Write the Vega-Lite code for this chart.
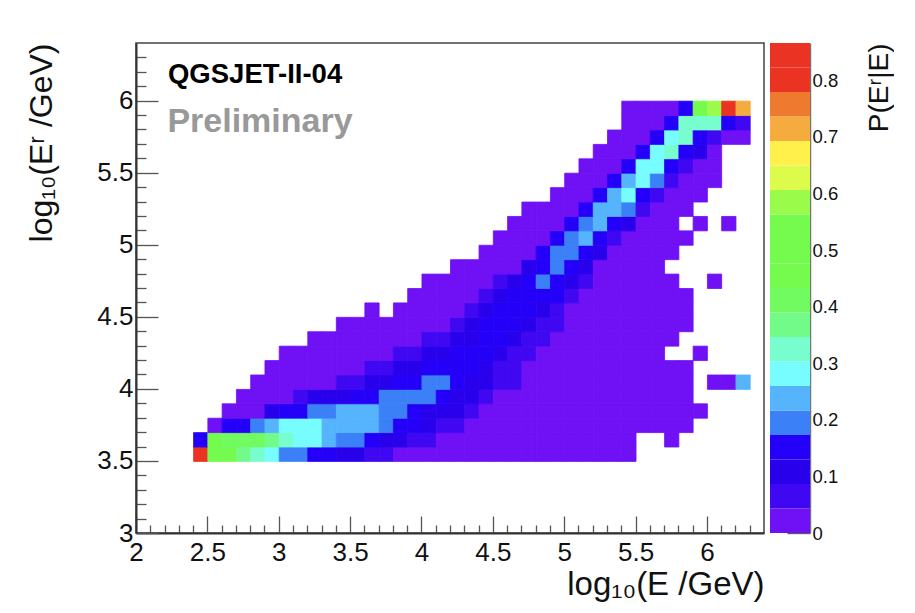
{"$schema":"https://vega.github.io/schema/vega-lite/v6.json","padding":{"left":25,"top":42,"right":0,"bottom":0},"background":"white","spacing":5,"config":{"font":"Liberation Sans","axis":{"grid":false,"labelFont":"Liberation Sans","titleFont":"Liberation Sans","titleFontWeight":"normal"}},"hconcat":[{"width":628,"height":490,"view":{"stroke":"#444","strokeWidth":1.5},"layer":[{"data":{"values":[
{"x":2.4,"y":3.5,"z":0.84},{"x":2.5,"y":3.5,"z":0.5},{"x":2.6,"y":3.5,"z":0.5},{"x":2.7,"y":3.5,"z":0.365},{"x":2.8,"y":3.5,"z":0.32},{"x":2.9,"y":3.5,"z":0.28},{"x":3.0,"y":3.5,"z":0.19},{"x":3.1,"y":3.5,"z":0.19},{"x":3.2,"y":3.5,"z":0.14},{"x":3.3,"y":3.5,"z":0.14},{"x":3.4,"y":3.5,"z":0.11},{"x":3.5,"y":3.5,"z":0.11},{"x":3.6,"y":3.5,"z":0.065},{"x":3.7,"y":3.5,"z":0.065},{"x":3.8,"y":3.5,"z":0.02},{"x":3.9,"y":3.5,"z":0.02},{"x":4.0,"y":3.5,"z":0.02},{"x":4.1,"y":3.5,"z":0.02},{"x":4.2,"y":3.5,"z":0.02},{"x":4.3,"y":3.5,"z":0.02},{"x":4.4,"y":3.5,"z":0.02},{"x":4.5,"y":3.5,"z":0.02},{"x":4.6,"y":3.5,"z":0.02},{"x":4.7,"y":3.5,"z":0.02},{"x":4.8,"y":3.5,"z":0.02},{"x":4.9,"y":3.5,"z":0.02},{"x":5.0,"y":3.5,"z":0.02},{"x":5.1,"y":3.5,"z":0.02},{"x":5.2,"y":3.5,"z":0.02},{"x":5.3,"y":3.5,"z":0.02},{"x":5.4,"y":3.5,"z":0.02},
{"x":2.4,"y":3.6,"z":0.15},{"x":2.5,"y":3.6,"z":0.47},{"x":2.6,"y":3.6,"z":0.41},{"x":2.7,"y":3.6,"z":0.41},{"x":2.8,"y":3.6,"z":0.41},{"x":2.9,"y":3.6,"z":0.365},{"x":3.0,"y":3.6,"z":0.32},{"x":3.1,"y":3.6,"z":0.28},{"x":3.2,"y":3.6,"z":0.28},{"x":3.3,"y":3.6,"z":0.235},{"x":3.4,"y":3.6,"z":0.19},{"x":3.5,"y":3.6,"z":0.19},{"x":3.6,"y":3.6,"z":0.14},{"x":3.7,"y":3.6,"z":0.11},{"x":3.8,"y":3.6,"z":0.11},{"x":3.9,"y":3.6,"z":0.065},{"x":4.0,"y":3.6,"z":0.065},{"x":4.1,"y":3.6,"z":0.02},{"x":4.2,"y":3.6,"z":0.02},{"x":4.3,"y":3.6,"z":0.02},{"x":4.4,"y":3.6,"z":0.02},{"x":4.5,"y":3.6,"z":0.02},{"x":4.6,"y":3.6,"z":0.02},{"x":4.7,"y":3.6,"z":0.02},{"x":4.8,"y":3.6,"z":0.02},{"x":4.9,"y":3.6,"z":0.02},{"x":5.0,"y":3.6,"z":0.02},{"x":5.1,"y":3.6,"z":0.02},{"x":5.2,"y":3.6,"z":0.02},{"x":5.3,"y":3.6,"z":0.02},{"x":5.4,"y":3.6,"z":0.02},{"x":5.7,"y":3.6,"z":0.02},
{"x":2.5,"y":3.7,"z":0.02},{"x":2.6,"y":3.7,"z":0.14},{"x":2.7,"y":3.7,"z":0.14},{"x":2.8,"y":3.7,"z":0.19},{"x":2.9,"y":3.7,"z":0.235},{"x":3.0,"y":3.7,"z":0.28},{"x":3.1,"y":3.7,"z":0.28},{"x":3.2,"y":3.7,"z":0.28},{"x":3.3,"y":3.7,"z":0.235},{"x":3.4,"y":3.7,"z":0.235},{"x":3.5,"y":3.7,"z":0.235},{"x":3.6,"y":3.7,"z":0.235},{"x":3.7,"y":3.7,"z":0.19},{"x":3.8,"y":3.7,"z":0.14},{"x":3.9,"y":3.7,"z":0.14},{"x":4.0,"y":3.7,"z":0.11},{"x":4.1,"y":3.7,"z":0.07},{"x":4.2,"y":3.7,"z":0.07},{"x":4.3,"y":3.7,"z":0.02},{"x":4.4,"y":3.7,"z":0.02},{"x":4.5,"y":3.7,"z":0.02},{"x":4.6,"y":3.7,"z":0.02},{"x":4.7,"y":3.7,"z":0.02},{"x":4.8,"y":3.7,"z":0.02},{"x":4.9,"y":3.7,"z":0.02},{"x":5.0,"y":3.7,"z":0.02},{"x":5.1,"y":3.7,"z":0.02},{"x":5.2,"y":3.7,"z":0.02},{"x":5.3,"y":3.7,"z":0.02},{"x":5.4,"y":3.7,"z":0.02},{"x":5.5,"y":3.7,"z":0.02},{"x":5.6,"y":3.7,"z":0.02},{"x":5.7,"y":3.7,"z":0.02},{"x":5.8,"y":3.7,"z":0.02},
{"x":2.6,"y":3.8,"z":0.02},{"x":2.7,"y":3.8,"z":0.02},{"x":2.8,"y":3.8,"z":0.02},{"x":2.9,"y":3.8,"z":0.11},{"x":3.0,"y":3.8,"z":0.14},{"x":3.1,"y":3.8,"z":0.14},{"x":3.2,"y":3.8,"z":0.19},{"x":3.3,"y":3.8,"z":0.19},{"x":3.4,"y":3.8,"z":0.235},{"x":3.5,"y":3.8,"z":0.235},{"x":3.6,"y":3.8,"z":0.235},{"x":3.7,"y":3.8,"z":0.19},{"x":3.8,"y":3.8,"z":0.19},{"x":3.9,"y":3.8,"z":0.14},{"x":4.0,"y":3.8,"z":0.11},{"x":4.1,"y":3.8,"z":0.11},{"x":4.2,"y":3.8,"z":0.11},{"x":4.3,"y":3.8,"z":0.07},{"x":4.4,"y":3.8,"z":0.02},{"x":4.5,"y":3.8,"z":0.02},{"x":4.6,"y":3.8,"z":0.02},{"x":4.7,"y":3.8,"z":0.02},{"x":4.8,"y":3.8,"z":0.02},{"x":4.9,"y":3.8,"z":0.02},{"x":5.0,"y":3.8,"z":0.02},{"x":5.1,"y":3.8,"z":0.02},{"x":5.2,"y":3.8,"z":0.02},{"x":5.3,"y":3.8,"z":0.02},{"x":5.4,"y":3.8,"z":0.02},{"x":5.5,"y":3.8,"z":0.02},{"x":5.6,"y":3.8,"z":0.02},{"x":5.7,"y":3.8,"z":0.02},{"x":5.8,"y":3.8,"z":0.02},{"x":5.9,"y":3.8,"z":0.02},
{"x":2.7,"y":3.9,"z":0.02},{"x":2.8,"y":3.9,"z":0.02},{"x":2.9,"y":3.9,"z":0.02},{"x":3.0,"y":3.9,"z":0.02},{"x":3.1,"y":3.9,"z":0.07},{"x":3.2,"y":3.9,"z":0.11},{"x":3.3,"y":3.9,"z":0.11},{"x":3.4,"y":3.9,"z":0.11},{"x":3.5,"y":3.9,"z":0.14},{"x":3.6,"y":3.9,"z":0.14},{"x":3.7,"y":3.9,"z":0.19},{"x":3.8,"y":3.9,"z":0.19},{"x":3.9,"y":3.9,"z":0.19},{"x":4.0,"y":3.9,"z":0.19},{"x":4.1,"y":3.9,"z":0.14},{"x":4.2,"y":3.9,"z":0.11},{"x":4.3,"y":3.9,"z":0.11},{"x":4.4,"y":3.9,"z":0.07},{"x":4.5,"y":3.9,"z":0.02},{"x":4.6,"y":3.9,"z":0.02},{"x":4.7,"y":3.9,"z":0.02},{"x":4.8,"y":3.9,"z":0.02},{"x":4.9,"y":3.9,"z":0.02},{"x":5.0,"y":3.9,"z":0.02},{"x":5.1,"y":3.9,"z":0.02},{"x":5.2,"y":3.9,"z":0.02},{"x":5.3,"y":3.9,"z":0.02},{"x":5.4,"y":3.9,"z":0.02},{"x":5.5,"y":3.9,"z":0.02},{"x":5.6,"y":3.9,"z":0.02},{"x":5.7,"y":3.9,"z":0.02},{"x":5.8,"y":3.9,"z":0.02},
{"x":2.8,"y":4.0,"z":0.02},{"x":2.9,"y":4.0,"z":0.02},{"x":3.0,"y":4.0,"z":0.02},{"x":3.1,"y":4.0,"z":0.02},{"x":3.2,"y":4.0,"z":0.02},{"x":3.3,"y":4.0,"z":0.02},{"x":3.4,"y":4.0,"z":0.07},{"x":3.5,"y":4.0,"z":0.07},{"x":3.6,"y":4.0,"z":0.11},{"x":3.7,"y":4.0,"z":0.11},{"x":3.8,"y":4.0,"z":0.14},{"x":3.9,"y":4.0,"z":0.14},{"x":4.0,"y":4.0,"z":0.19},{"x":4.1,"y":4.0,"z":0.19},{"x":4.2,"y":4.0,"z":0.14},{"x":4.3,"y":4.0,"z":0.11},{"x":4.4,"y":4.0,"z":0.11},{"x":4.5,"y":4.0,"z":0.07},{"x":4.6,"y":4.0,"z":0.07},{"x":4.7,"y":4.0,"z":0.02},{"x":4.8,"y":4.0,"z":0.02},{"x":4.9,"y":4.0,"z":0.02},{"x":5.0,"y":4.0,"z":0.02},{"x":5.1,"y":4.0,"z":0.02},{"x":5.2,"y":4.0,"z":0.02},{"x":5.3,"y":4.0,"z":0.02},{"x":5.4,"y":4.0,"z":0.02},{"x":5.5,"y":4.0,"z":0.02},{"x":5.6,"y":4.0,"z":0.02},{"x":5.7,"y":4.0,"z":0.02},{"x":5.8,"y":4.0,"z":0.02},{"x":6.0,"y":4.0,"z":0.02},{"x":6.1,"y":4.0,"z":0.02},{"x":6.2,"y":4.0,"z":0.235},
{"x":2.9,"y":4.1,"z":0.02},{"x":3.0,"y":4.1,"z":0.02},{"x":3.1,"y":4.1,"z":0.02},{"x":3.2,"y":4.1,"z":0.02},{"x":3.3,"y":4.1,"z":0.02},{"x":3.4,"y":4.1,"z":0.02},{"x":3.5,"y":4.1,"z":0.02},{"x":3.6,"y":4.1,"z":0.07},{"x":3.7,"y":4.1,"z":0.07},{"x":3.8,"y":4.1,"z":0.11},{"x":3.9,"y":4.1,"z":0.11},{"x":4.0,"y":4.1,"z":0.15},{"x":4.1,"y":4.1,"z":0.15},{"x":4.2,"y":4.1,"z":0.15},{"x":4.3,"y":4.1,"z":0.15},{"x":4.4,"y":4.1,"z":0.11},{"x":4.5,"y":4.1,"z":0.07},{"x":4.6,"y":4.1,"z":0.07},{"x":4.7,"y":4.1,"z":0.02},{"x":4.8,"y":4.1,"z":0.02},{"x":4.9,"y":4.1,"z":0.02},{"x":5.0,"y":4.1,"z":0.02},{"x":5.1,"y":4.1,"z":0.02},{"x":5.2,"y":4.1,"z":0.02},{"x":5.3,"y":4.1,"z":0.02},{"x":5.4,"y":4.1,"z":0.02},{"x":5.5,"y":4.1,"z":0.02},{"x":5.6,"y":4.1,"z":0.02},{"x":5.7,"y":4.1,"z":0.02},{"x":5.8,"y":4.1,"z":0.02},
{"x":3.0,"y":4.2,"z":0.02},{"x":3.1,"y":4.2,"z":0.02},{"x":3.2,"y":4.2,"z":0.02},{"x":3.3,"y":4.2,"z":0.02},{"x":3.4,"y":4.2,"z":0.02},{"x":3.5,"y":4.2,"z":0.02},{"x":3.6,"y":4.2,"z":0.02},{"x":3.7,"y":4.2,"z":0.02},{"x":3.8,"y":4.2,"z":0.07},{"x":3.9,"y":4.2,"z":0.07},{"x":4.0,"y":4.2,"z":0.11},{"x":4.1,"y":4.2,"z":0.11},{"x":4.2,"y":4.2,"z":0.15},{"x":4.3,"y":4.2,"z":0.15},{"x":4.4,"y":4.2,"z":0.15},{"x":4.5,"y":4.2,"z":0.11},{"x":4.6,"y":4.2,"z":0.07},{"x":4.7,"y":4.2,"z":0.07},{"x":4.8,"y":4.2,"z":0.02},{"x":4.9,"y":4.2,"z":0.02},{"x":5.0,"y":4.2,"z":0.02},{"x":5.1,"y":4.2,"z":0.02},{"x":5.2,"y":4.2,"z":0.02},{"x":5.3,"y":4.2,"z":0.02},{"x":5.4,"y":4.2,"z":0.02},{"x":5.5,"y":4.2,"z":0.02},{"x":5.6,"y":4.2,"z":0.02},{"x":5.9,"y":4.2,"z":0.02},
{"x":3.2,"y":4.3,"z":0.02},{"x":3.3,"y":4.3,"z":0.02},{"x":3.4,"y":4.3,"z":0.02},{"x":3.5,"y":4.3,"z":0.02},{"x":3.6,"y":4.3,"z":0.02},{"x":3.7,"y":4.3,"z":0.02},{"x":3.8,"y":4.3,"z":0.02},{"x":3.9,"y":4.3,"z":0.02},{"x":4.0,"y":4.3,"z":0.07},{"x":4.1,"y":4.3,"z":0.07},{"x":4.2,"y":4.3,"z":0.11},{"x":4.3,"y":4.3,"z":0.11},{"x":4.4,"y":4.3,"z":0.14},{"x":4.5,"y":4.3,"z":0.14},{"x":4.6,"y":4.3,"z":0.11},{"x":4.7,"y":4.3,"z":0.07},{"x":4.8,"y":4.3,"z":0.07},{"x":4.9,"y":4.3,"z":0.02},{"x":5.0,"y":4.3,"z":0.02},{"x":5.1,"y":4.3,"z":0.02},{"x":5.2,"y":4.3,"z":0.02},{"x":5.3,"y":4.3,"z":0.02},{"x":5.4,"y":4.3,"z":0.02},{"x":5.5,"y":4.3,"z":0.02},{"x":5.6,"y":4.3,"z":0.02},{"x":5.7,"y":4.3,"z":0.02},
{"x":3.4,"y":4.4,"z":0.02},{"x":3.5,"y":4.4,"z":0.02},{"x":3.6,"y":4.4,"z":0.02},{"x":3.7,"y":4.4,"z":0.02},{"x":3.8,"y":4.4,"z":0.02},{"x":3.9,"y":4.4,"z":0.02},{"x":4.0,"y":4.4,"z":0.02},{"x":4.1,"y":4.4,"z":0.02},{"x":4.2,"y":4.4,"z":0.07},{"x":4.3,"y":4.4,"z":0.11},{"x":4.4,"y":4.4,"z":0.15},{"x":4.5,"y":4.4,"z":0.15},{"x":4.6,"y":4.4,"z":0.15},{"x":4.7,"y":4.4,"z":0.12},{"x":4.8,"y":4.4,"z":0.07},{"x":4.9,"y":4.4,"z":0.07},{"x":5.0,"y":4.4,"z":0.02},{"x":5.1,"y":4.4,"z":0.02},{"x":5.2,"y":4.4,"z":0.02},{"x":5.3,"y":4.4,"z":0.02},{"x":5.4,"y":4.4,"z":0.02},{"x":5.5,"y":4.4,"z":0.02},{"x":5.6,"y":4.4,"z":0.02},{"x":5.7,"y":4.4,"z":0.02},{"x":5.8,"y":4.4,"z":0.02},
{"x":3.6,"y":4.5,"z":0.02},{"x":3.8,"y":4.5,"z":0.02},{"x":3.9,"y":4.5,"z":0.02},{"x":4.0,"y":4.5,"z":0.02},{"x":4.1,"y":4.5,"z":0.02},{"x":4.2,"y":4.5,"z":0.02},{"x":4.3,"y":4.5,"z":0.07},{"x":4.4,"y":4.5,"z":0.11},{"x":4.5,"y":4.5,"z":0.15},{"x":4.6,"y":4.5,"z":0.15},{"x":4.7,"y":4.5,"z":0.15},{"x":4.8,"y":4.5,"z":0.12},{"x":4.9,"y":4.5,"z":0.07},{"x":5.0,"y":4.5,"z":0.02},{"x":5.1,"y":4.5,"z":0.02},{"x":5.2,"y":4.5,"z":0.02},{"x":5.3,"y":4.5,"z":0.02},{"x":5.4,"y":4.5,"z":0.02},{"x":5.5,"y":4.5,"z":0.02},{"x":5.6,"y":4.5,"z":0.02},{"x":5.7,"y":4.5,"z":0.02},{"x":5.8,"y":4.5,"z":0.02},
{"x":3.9,"y":4.6,"z":0.02},{"x":4.0,"y":4.6,"z":0.02},{"x":4.1,"y":4.6,"z":0.02},{"x":4.2,"y":4.6,"z":0.02},{"x":4.3,"y":4.6,"z":0.02},{"x":4.4,"y":4.6,"z":0.07},{"x":4.5,"y":4.6,"z":0.11},{"x":4.6,"y":4.6,"z":0.15},{"x":4.7,"y":4.6,"z":0.15},{"x":4.8,"y":4.6,"z":0.15},{"x":4.9,"y":4.6,"z":0.14},{"x":5.0,"y":4.6,"z":0.07},{"x":5.1,"y":4.6,"z":0.02},{"x":5.2,"y":4.6,"z":0.02},{"x":5.3,"y":4.6,"z":0.02},{"x":5.4,"y":4.6,"z":0.02},{"x":5.5,"y":4.6,"z":0.02},{"x":5.6,"y":4.6,"z":0.02},{"x":5.7,"y":4.6,"z":0.02},{"x":5.8,"y":4.6,"z":0.02},
{"x":4.0,"y":4.7,"z":0.02},{"x":4.1,"y":4.7,"z":0.02},{"x":4.2,"y":4.7,"z":0.02},{"x":4.3,"y":4.7,"z":0.02},{"x":4.4,"y":4.7,"z":0.02},{"x":4.5,"y":4.7,"z":0.07},{"x":4.6,"y":4.7,"z":0.11},{"x":4.7,"y":4.7,"z":0.15},{"x":4.8,"y":4.7,"z":0.19},{"x":4.9,"y":4.7,"z":0.15},{"x":5.0,"y":4.7,"z":0.11},{"x":5.1,"y":4.7,"z":0.07},{"x":5.2,"y":4.7,"z":0.02},{"x":5.3,"y":4.7,"z":0.02},{"x":5.4,"y":4.7,"z":0.02},{"x":5.5,"y":4.7,"z":0.02},{"x":5.6,"y":4.7,"z":0.02},{"x":5.7,"y":4.7,"z":0.02},{"x":6.0,"y":4.7,"z":0.02},
{"x":4.2,"y":4.8,"z":0.02},{"x":4.3,"y":4.8,"z":0.02},{"x":4.4,"y":4.8,"z":0.02},{"x":4.5,"y":4.8,"z":0.02},{"x":4.6,"y":4.8,"z":0.02},{"x":4.7,"y":4.8,"z":0.12},{"x":4.8,"y":4.8,"z":0.15},{"x":4.9,"y":4.8,"z":0.19},{"x":5.0,"y":4.8,"z":0.15},{"x":5.1,"y":4.8,"z":0.12},{"x":5.2,"y":4.8,"z":0.02},{"x":5.3,"y":4.8,"z":0.02},{"x":5.4,"y":4.8,"z":0.02},{"x":5.5,"y":4.8,"z":0.02},{"x":5.6,"y":4.8,"z":0.02},
{"x":4.4,"y":4.9,"z":0.02},{"x":4.5,"y":4.9,"z":0.02},{"x":4.6,"y":4.9,"z":0.02},{"x":4.7,"y":4.9,"z":0.02},{"x":4.8,"y":4.9,"z":0.15},{"x":4.9,"y":4.9,"z":0.19},{"x":5.0,"y":4.9,"z":0.19},{"x":5.1,"y":4.9,"z":0.15},{"x":5.2,"y":4.9,"z":0.12},{"x":5.3,"y":4.9,"z":0.02},{"x":5.4,"y":4.9,"z":0.02},{"x":5.5,"y":4.9,"z":0.02},{"x":5.6,"y":4.9,"z":0.02},{"x":5.7,"y":4.9,"z":0.02},
{"x":4.5,"y":5.0,"z":0.02},{"x":4.6,"y":5.0,"z":0.02},{"x":4.7,"y":5.0,"z":0.02},{"x":4.8,"y":5.0,"z":0.02},{"x":4.9,"y":5.0,"z":0.15},{"x":5.0,"y":5.0,"z":0.19},{"x":5.1,"y":5.0,"z":0.235},{"x":5.2,"y":5.0,"z":0.15},{"x":5.3,"y":5.0,"z":0.07},{"x":5.4,"y":5.0,"z":0.02},{"x":5.5,"y":5.0,"z":0.02},{"x":5.6,"y":5.0,"z":0.02},{"x":5.7,"y":5.0,"z":0.02},{"x":5.8,"y":5.0,"z":0.02},
{"x":4.6,"y":5.1,"z":0.02},{"x":4.7,"y":5.1,"z":0.02},{"x":4.8,"y":5.1,"z":0.02},{"x":4.9,"y":5.1,"z":0.02},{"x":5.0,"y":5.1,"z":0.15},{"x":5.1,"y":5.1,"z":0.19},{"x":5.2,"y":5.1,"z":0.235},{"x":5.3,"y":5.1,"z":0.15},{"x":5.4,"y":5.1,"z":0.1},{"x":5.5,"y":5.1,"z":0.02},{"x":5.6,"y":5.1,"z":0.02},{"x":5.7,"y":5.1,"z":0.02},{"x":5.9,"y":5.1,"z":0.02},{"x":6.1,"y":5.1,"z":0.02},
{"x":4.7,"y":5.2,"z":0.02},{"x":4.8,"y":5.2,"z":0.02},{"x":4.9,"y":5.2,"z":0.02},{"x":5.0,"y":5.2,"z":0.02},{"x":5.1,"y":5.2,"z":0.15},{"x":5.2,"y":5.2,"z":0.235},{"x":5.3,"y":5.2,"z":0.235},{"x":5.4,"y":5.2,"z":0.19},{"x":5.5,"y":5.2,"z":0.07},{"x":5.6,"y":5.2,"z":0.02},{"x":5.7,"y":5.2,"z":0.02},{"x":5.8,"y":5.2,"z":0.02},
{"x":4.9,"y":5.3,"z":0.02},{"x":5.0,"y":5.3,"z":0.02},{"x":5.1,"y":5.3,"z":0.02},{"x":5.2,"y":5.3,"z":0.15},{"x":5.3,"y":5.3,"z":0.235},{"x":5.4,"y":5.3,"z":0.28},{"x":5.5,"y":5.3,"z":0.15},{"x":5.6,"y":5.3,"z":0.07},{"x":5.7,"y":5.3,"z":0.02},{"x":5.8,"y":5.3,"z":0.02},{"x":5.9,"y":5.3,"z":0.02},
{"x":5.0,"y":5.4,"z":0.02},{"x":5.1,"y":5.4,"z":0.02},{"x":5.2,"y":5.4,"z":0.02},{"x":5.3,"y":5.4,"z":0.15},{"x":5.4,"y":5.4,"z":0.235},{"x":5.5,"y":5.4,"z":0.28},{"x":5.6,"y":5.4,"z":0.19},{"x":5.7,"y":5.4,"z":0.07},{"x":5.8,"y":5.4,"z":0.02},{"x":5.9,"y":5.4,"z":0.02},{"x":6.0,"y":5.4,"z":0.02},
{"x":5.1,"y":5.5,"z":0.02},{"x":5.2,"y":5.5,"z":0.02},{"x":5.3,"y":5.5,"z":0.02},{"x":5.4,"y":5.5,"z":0.15},{"x":5.5,"y":5.5,"z":0.28},{"x":5.6,"y":5.5,"z":0.28},{"x":5.7,"y":5.5,"z":0.15},{"x":5.8,"y":5.5,"z":0.08},{"x":5.9,"y":5.5,"z":0.02},{"x":6.0,"y":5.5,"z":0.02},
{"x":5.2,"y":5.6,"z":0.02},{"x":5.3,"y":5.6,"z":0.02},{"x":5.4,"y":5.6,"z":0.02},{"x":5.5,"y":5.6,"z":0.15},{"x":5.6,"y":5.6,"z":0.28},{"x":5.7,"y":5.6,"z":0.32},{"x":5.8,"y":5.6,"z":0.15},{"x":5.9,"y":5.6,"z":0.1},{"x":6.0,"y":5.6,"z":0.03},
{"x":5.3,"y":5.7,"z":0.02},{"x":5.4,"y":5.7,"z":0.02},{"x":5.5,"y":5.7,"z":0.02},{"x":5.6,"y":5.7,"z":0.15},{"x":5.7,"y":5.7,"z":0.28},{"x":5.8,"y":5.7,"z":0.32},{"x":5.9,"y":5.7,"z":0.15},{"x":6.0,"y":5.7,"z":0.07},{"x":6.1,"y":5.7,"z":0.02},{"x":6.2,"y":5.7,"z":0.02},
{"x":5.4,"y":5.8,"z":0.02},{"x":5.5,"y":5.8,"z":0.02},{"x":5.6,"y":5.8,"z":0.02},{"x":5.7,"y":5.8,"z":0.15},{"x":5.8,"y":5.8,"z":0.32},{"x":5.9,"y":5.8,"z":0.32},{"x":6.0,"y":5.8,"z":0.32},{"x":6.1,"y":5.8,"z":0.15},{"x":6.2,"y":5.8,"z":0.07},
{"x":5.4,"y":5.9,"z":0.02},{"x":5.5,"y":5.9,"z":0.02},{"x":5.6,"y":5.9,"z":0.02},{"x":5.7,"y":5.9,"z":0.02},{"x":5.8,"y":5.9,"z":0.15},{"x":5.9,"y":5.9,"z":0.5},{"x":6.0,"y":5.9,"z":0.58},{"x":6.1,"y":5.9,"z":0.84},{"x":6.2,"y":5.9,"z":0.71}
]},"mark":{"type":"rect","strokeWidth":0.8},"encoding":{"x":{"field":"x","type":"quantitative","bin":{"binned":true,"step":0.1},"scale":{"domain":[2,6.4],"nice":false,"zero":false},"axis":{"title":"log₁₀(E /GeV)","titleFontSize":33,"titleAnchor":"end","titleColor":"#111","titlePadding":-6,"values":[2,2.1,2.2,2.3,2.4,2.5,2.6,2.7,2.8,2.9,3,3.1,3.2,3.3,3.4,3.5,3.6,3.7,3.8,3.9,4,4.1,4.2,4.3,4.4,4.5,4.6,4.7,4.8,4.9,5,5.1,5.2,5.3,5.4,5.5,5.6,5.7,5.8,5.9,6,6.1,6.2,6.3],"format":"~g","labelExpr":"round(datum.value*10)%5==0 ? datum.label : ''","labelFontSize":26,"labelColor":"#111","labelPadding":23,"labelOverlap":false,"labelFlush":false,"domainColor":"#333","domainWidth":2,"tickColor":"#555","tickWidth":1.3,"tickSize":{"condition":{"test":"round(datum.value*10)%5==0","value":-17},"value":-8}}},"y":{"field":"y","type":"quantitative","bin":{"binned":true,"step":0.1},"scale":{"domain":[3,6.4],"nice":false,"zero":false},"axis":{"title":"log₁₀(Eʳ /GeV)","titleFontSize":32,"titleAnchor":"end","titleColor":"#111","titlePadding":38,"values":[3,3.1,3.2,3.3,3.4,3.5,3.6,3.7,3.8,3.9,4,4.1,4.2,4.3,4.4,4.5,4.6,4.7,4.8,4.9,5,5.1,5.2,5.3,5.4,5.5,5.6,5.7,5.8,5.9,6,6.1,6.2,6.3],"format":"~g","labelExpr":"round(datum.value*10)%5==0 ? datum.label : ''","labelFontSize":26,"labelColor":"#111","labelPadding":25,"labelOverlap":false,"labelFlush":false,"domainColor":"#333","domainWidth":2,"tickColor":"#555","tickWidth":1.3,"tickSize":{"condition":{"test":"round(datum.value*10)%5==0","value":-22},"value":-10}}},"color":{"field":"z","type":"quantitative","legend":null,"scale":{"type":"threshold","domain":[0.0433,0.0866,0.13,0.1732,0.2165,0.2598,0.3031,0.3464,0.3897,0.433,0.4763,0.5196,0.5629,0.6062,0.6495,0.6928,0.7361,0.7794,0.8227],"range":["#6f10f5","#4008f2","#2800ec","#2400f8","#3b80f7","#55b4fb","#77fdff","#78fdcf","#73fb8a","#72fb60","#74fb4e","#74fb4e","#74fb4e","#9afb4a","#dcfb4c","#fff04b","#f5ab3e","#ee7a30","#ea3323","#ea3323"]}},"stroke":{"field":"z","type":"quantitative","legend":null,"scale":{"type":"threshold","domain":[0.0433,0.0866,0.13,0.1732,0.2165,0.2598,0.3031,0.3464,0.3897,0.433,0.4763,0.5196,0.5629,0.6062,0.6495,0.6928,0.7361,0.7794,0.8227],"range":["#6f10f5","#4008f2","#2800ec","#2400f8","#3b80f7","#55b4fb","#77fdff","#78fdcf","#73fb8a","#72fb60","#74fb4e","#74fb4e","#74fb4e","#9afb4a","#dcfb4c","#fff04b","#f5ab3e","#ee7a30","#ea3323","#ea3323"]}}}},
{"data":{"values":[{"label":"QGSJET-II-04"}]},"mark":{"type":"text","align":"left","baseline":"alphabetic","fontWeight":"bold","fontSize":27.5,"color":"#000"},"encoding":{"x":{"datum":2.224},"y":{"datum":6.12},"text":{"field":"label"}}},
{"data":{"values":[{"label":"Preliminary"}]},"mark":{"type":"text","align":"left","baseline":"alphabetic","fontWeight":"bold","fontSize":34,"color":"#999999"},"encoding":{"x":{"datum":2.22},"y":{"datum":5.78},"text":{"field":"label"}}}]},
{"width":40,"height":490,"view":{"stroke":null},"data":{"values":[{"lo":0,"hi":0.0433,"z":0.02},{"lo":0.0433,"hi":0.0866,"z":0.065},{"lo":0.0866,"hi":0.13,"z":0.11},{"lo":0.13,"hi":0.1732,"z":0.15},{"lo":0.1732,"hi":0.2165,"z":0.19},{"lo":0.2165,"hi":0.2598,"z":0.235},{"lo":0.2598,"hi":0.3031,"z":0.28},{"lo":0.3031,"hi":0.3464,"z":0.32},{"lo":0.3464,"hi":0.3897,"z":0.365},{"lo":0.3897,"hi":0.433,"z":0.41},{"lo":0.433,"hi":0.4763,"z":0.45},{"lo":0.4763,"hi":0.5196,"z":0.5},{"lo":0.5196,"hi":0.5629,"z":0.54},{"lo":0.5629,"hi":0.6062,"z":0.58},{"lo":0.6062,"hi":0.6495,"z":0.63},{"lo":0.6495,"hi":0.6928,"z":0.67},{"lo":0.6928,"hi":0.7361,"z":0.71},{"lo":0.7361,"hi":0.7794,"z":0.755},{"lo":0.7794,"hi":0.8227,"z":0.8},{"lo":0.8227,"hi":0.866,"z":0.84}]},"mark":{"type":"rect","strokeWidth":0.5},"encoding":{"y":{"field":"lo","type":"quantitative","scale":{"domain":[0,0.866],"nice":false,"zero":false},"axis":{"orient":"right","title":"P(Eʳ|E)","titleFontSize":28,"titleColor":"#111","titleAngle":270,"titleAnchor":"end","titlePadding":56,"values":[0,0.1,0.2,0.3,0.4,0.5,0.6,0.7,0.8],"format":"~g","labelFontSize":18.5,"labelColor":"#111","labelPadding":25,"domainColor":"#777","domainWidth":1.5,"tickColor":"#222","tickOpacity":0.75,"tickWidth":1.3,"tickSize":-23}},"y2":{"field":"hi"},"color":{"field":"z","type":"quantitative","legend":null,"scale":{"type":"threshold","domain":[0.0433,0.0866,0.13,0.1732,0.2165,0.2598,0.3031,0.3464,0.3897,0.433,0.4763,0.5196,0.5629,0.6062,0.6495,0.6928,0.7361,0.7794,0.8227],"range":["#6f10f5","#4008f2","#2800ec","#2400f8","#3b80f7","#55b4fb","#77fdff","#78fdcf","#73fb8a","#72fb60","#74fb4e","#74fb4e","#74fb4e","#9afb4a","#dcfb4c","#fff04b","#f5ab3e","#ee7a30","#ea3323","#ea3323"]}}}}]}
